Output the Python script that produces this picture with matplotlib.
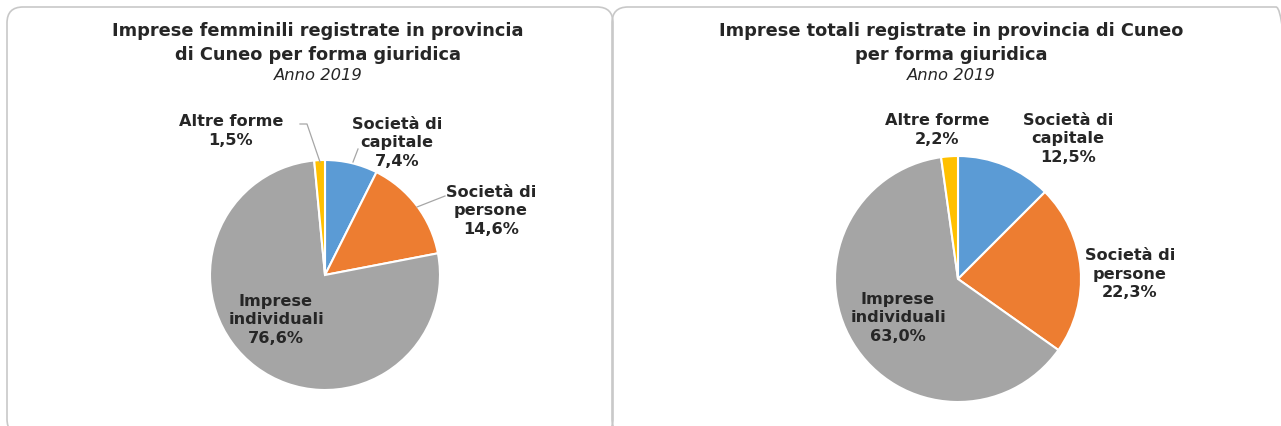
import matplotlib.pyplot as plt
from matplotlib.patches import FancyBboxPatch

# Dati (percentuali), anno 2019
categorie = ['Società di\ncapitale', 'Società di\npersone', 'Imprese\nindividuali', 'Altre forme']
femminili = [7.4, 14.6, 76.6, 1.5]
totali = [12.5, 22.3, 63.0, 2.2]
colori = ['#5B9BD5', '#ED7D31', '#A5A5A5', '#FFC000']

titolo_f = 'Imprese femminili registrate in provincia\ndi Cuneo per forma giuridica'
titolo_t = 'Imprese totali registrate in provincia di Cuneo\nper forma giuridica'

W, H = 1281, 427
fig = plt.figure(figsize=(W / 100, H / 100), dpi=100)
ax = fig.add_axes([0, 0, 1, 1])


def Y(y):
    # coordinate in pixel dall'alto
    return H - y


# cornici arrotondate (escono dal bordo in basso / a destra)
for x0, x1 in [(7, 613), (612, 1292)]:
    ax.add_patch(FancyBboxPatch((x0, Y(436)), x1 - x0, 428,
                                boxstyle='round,pad=0,rounding_size=16',
                                fill=False, ec='#C8C8C8', lw=1.2))


def torta(valori, cx, cy, r):
    ax.pie(valori, colors=colori, startangle=90, counterclock=False,
           center=(cx, Y(cy)), radius=r, frame=True,
           wedgeprops=dict(edgecolor='white', linewidth=1.5))


def etichetta(testo, x, y):
    ax.text(x, Y(y), testo, ha='center', va='center', fontsize=11.6,
            fontweight='bold', color='#262626', linespacing=1.28)


def linea(pts):
    ax.plot([p[0] for p in pts], [Y(p[1]) for p in pts], color='#A6A6A6', lw=0.9)


def pct(v):
    return f'{v:.1f}%'.replace('.', ',')


# torta di sinistra
torta(femminili, 325, 276, 115)
etichetta(categorie[0] + '\n' + pct(femminili[0]), 397, 143)
etichetta(categorie[1] + '\n' + pct(femminili[1]), 491, 211)
etichetta(categorie[2] + '\n' + pct(femminili[2]), 276, 320)
etichetta(categorie[3] + '\n' + pct(femminili[3]), 231, 131)
linea([(300, 125), (307, 125), (320, 163)])
linea([(353, 163), (358, 150)])
linea([(417, 208), (445, 197)])

# torta di destra
torta(totali, 958, 280, 123)
etichetta(categorie[0] + '\n' + pct(totali[0]), 1068, 139)
etichetta(categorie[1] + '\n' + pct(totali[1]), 1130, 274)
etichetta(categorie[2] + '\n' + pct(totali[2]), 898, 318)
etichetta(categorie[3] + '\n' + pct(totali[3]), 937, 130)

# titoli
for tit, cx in [(titolo_f, 318), (titolo_t, 951)]:
    ax.text(cx, Y(43), tit, ha='center', va='center', fontsize=12.8,
            fontweight='bold', color='#262626', linespacing=1.38)
    ax.text(cx, Y(75.5), 'Anno 2019', ha='center', va='center', fontsize=11.8,
            style='italic', color='#262626')

ax.set_xlim(0, W)
ax.set_ylim(0, H)
ax.set_aspect('auto')
ax.axis('off')
fig.savefig('out.png', dpi=100)
